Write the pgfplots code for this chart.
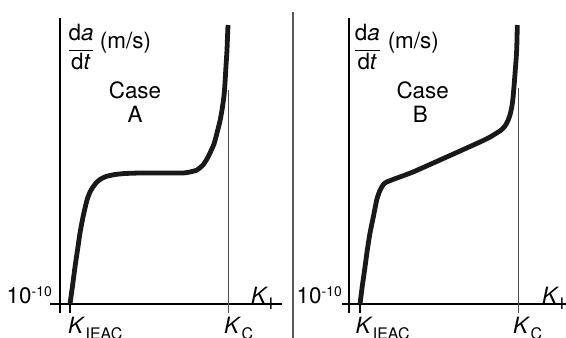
\documentclass[border=0pt]{standalone}
\usepackage{fontspec}
\setmainfont{TeX Gyre Heros}
\usepackage{pgfplots}
\pgfplotsset{compat=1.18}
\newcommand\K[1]{\textit{K}\kern0.3pt\raisebox{-0.3em}{\fontsize{16}{16}\selectfont #1}}
\pgfplotsset{panel/.style={x=1bp,y=1bp, axis lines=middle,
  axis line style={-, line width=1.7bp}, xtick=\empty, ytick=\empty,
  ymin=-9, ymax=286, enlargelimits=false, clip=false, anchor=south west},
  curve/.style={line width=4.8bp, black!90, smooth, tension=0.3, line join=round},
  kc/.style={line width=0.8bp, black!70}}
\pgfplotstableread{
x y
10 0
12.5 18
15 37
17.5 54
20 71
23 87
27 104
30 112
33 117
36 121
40 124.5
46 127.5
55 129.5
65 130.5
80 131
100 131
123 131
130 132
137 134
143 139
147 145
150 151
154 160
157 171
160 183
162 194
164 208
165 221
166 238
167 254
167.5 267
168 279
}\curveA
\pgfplotstableread{
x y
10.7 0
13 18
15.7 37
18 54
20.7 71
24 87
27.4 104
30 112
32.4 117
35 120.5
37.4 122
45 125
63.7 132
97.4 147
130.7 162
140 166.5
147.4 171
152 174
155.7 178
158.5 183
160.7 189
162.5 197
163.7 206
165 221
166.3 238
167.4 254
168 279
}\curveB
\begin{document}
\begin{tikzpicture}[every node/.append style={font=\fontsize{22.5}{26}\selectfont}]
\useasboundingbox (0,0) rectangle (566bp,338bp);
\draw[black!65, line width=1.2bp] (293bp,0) -- (293bp,326bp);
% Left panel
\begin{axis}[panel, xmin=-10, xmax=222, at={(50bp,25bp)}]
\addplot[kc] coordinates {(168.3,-9) (168.3,214)};
\addplot[line width=1.5bp] coordinates {(10,-9) (10,0)};
\addplot[curve] table {\curveA};
\node at (axis cs:21,257) {$\displaystyle\frac{\hbox{d\textit{a}}}{\hbox{d\textit{t}}}$};
\node at (axis cs:65.5,261) {(m/s)};
\node at (axis cs:75,213.5) {Case};
\node at (axis cs:75,190) {A};
\node[anchor=base east, inner sep=0] at (axis cs:-8,1) {10\raisebox{7bp}{\fontsize{14}{14}\selectfont -10}};
\node[anchor=base west, inner sep=0] at (axis cs:191,1) {\K{I}};
\node[anchor=base west, inner sep=0] at (axis cs:8,-29) {\K{IEAC}};
\node[anchor=base west, inner sep=0] at (axis cs:164,-29) {\K{C}};
\end{axis}
% Right panel
\begin{axis}[panel, xmin=-7.6, xmax=216.7, at={(341.7bp,25bp)}]
\addplot[kc] coordinates {(169,-9) (169,216)};
\addplot[line width=1.5bp] coordinates {(10.7,-9) (10.7,0)};
\addplot[curve] table {\curveB};
\node at (axis cs:18,257) {$\displaystyle\frac{\hbox{d\textit{a}}}{\hbox{d\textit{t}}}$};
\node at (axis cs:64,261) {(m/s)};
\node at (axis cs:73.4,213.5) {Case};
\node at (axis cs:71,190) {B};
\node[anchor=base east, inner sep=0] at (axis cs:-7.3,1) {10\raisebox{7bp}{\fontsize{14}{14}\selectfont -10}};
\node[anchor=base west, inner sep=0] at (axis cs:192.7,1) {\K{I}};
\node[anchor=base west, inner sep=0] at (axis cs:6,-29) {\K{IEAC}};
\node[anchor=base west, inner sep=0] at (axis cs:163.7,-29) {\K{C}};
\end{axis}
\end{tikzpicture}
\end{document}
